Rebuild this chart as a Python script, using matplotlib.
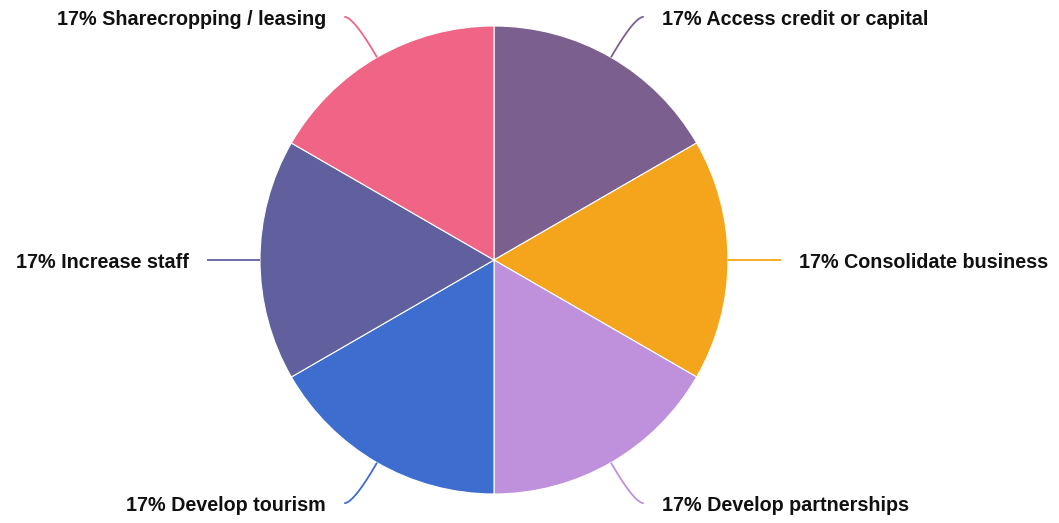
import numpy as np
import matplotlib
matplotlib.use("Agg")
import matplotlib.pyplot as plt

# ------------------------------
# Data
# ------------------------------
categories = ["Access credit or capital", "Consolidate business", "Develop partnerships",
              "Develop tourism", "Increase staff", "Sharecropping / leasing"]
values = [17, 17, 17, 17, 17, 17]
colors = ["#7B5F8F", "#F4A51C", "#BF91DC", "#3D6DCE", "#60609E", "#F06485"]

W, H = 1059, 523
cx, cy, R = 494, 260, 234

fig = plt.figure(figsize=(W / 100, H / 100), dpi=100)
ax = fig.add_axes([0, 0, 1, 1])

wedges, _ = ax.pie(values, colors=colors, startangle=90, counterclock=False,
                   radius=1, wedgeprops=dict(edgecolor="white", linewidth=0.8))
# pie changes the limits, so set them afterwards (1 data unit = R pixels)
ax.set_aspect("auto")
ax.set_xlim(-cx / R, (W - cx) / R)
ax.set_ylim(-(H - cy) / R, cy / R)
ax.axis("off")

total = sum(values)
for w, cat, col, v in zip(wedges, categories, colors, values):
    ang = np.deg2rad((w.theta1 + w.theta2) / 2)
    c, s = np.cos(ang), np.sin(ang)
    sign = 1 if c > 0 else -1
    p0 = np.array([c, s])
    if abs(s) < 0.01:
        p1 = np.array([1.1 * c, 0.0])
        p2 = np.array([1.225 * c, 0.0])
    else:
        p1 = np.array([1.2 * c, 1.2 * s])
        p2 = p1 + np.array([0.04 * sign, 0])
    t = np.linspace(0, 1, 40)[:, None]
    curve = (1 - t) ** 2 * p0 + 2 * (1 - t) * t * p1 + t ** 2 * p2
    ax.plot(curve[:, 0], curve[:, 1], color=col, lw=1.3, solid_capstyle="butt")
    pct = round(100 * v / total)
    ax.text(p2[0] + 0.078 * sign, p2[1] - 0.012, f"{pct}% {cat}",
            ha="left" if sign > 0 else "right", va="center",
            fontsize=14.2, fontweight="bold", family=["Liberation Sans", "DejaVu Sans"],
            color="#111111")

fig.savefig("out.png", dpi=100)
